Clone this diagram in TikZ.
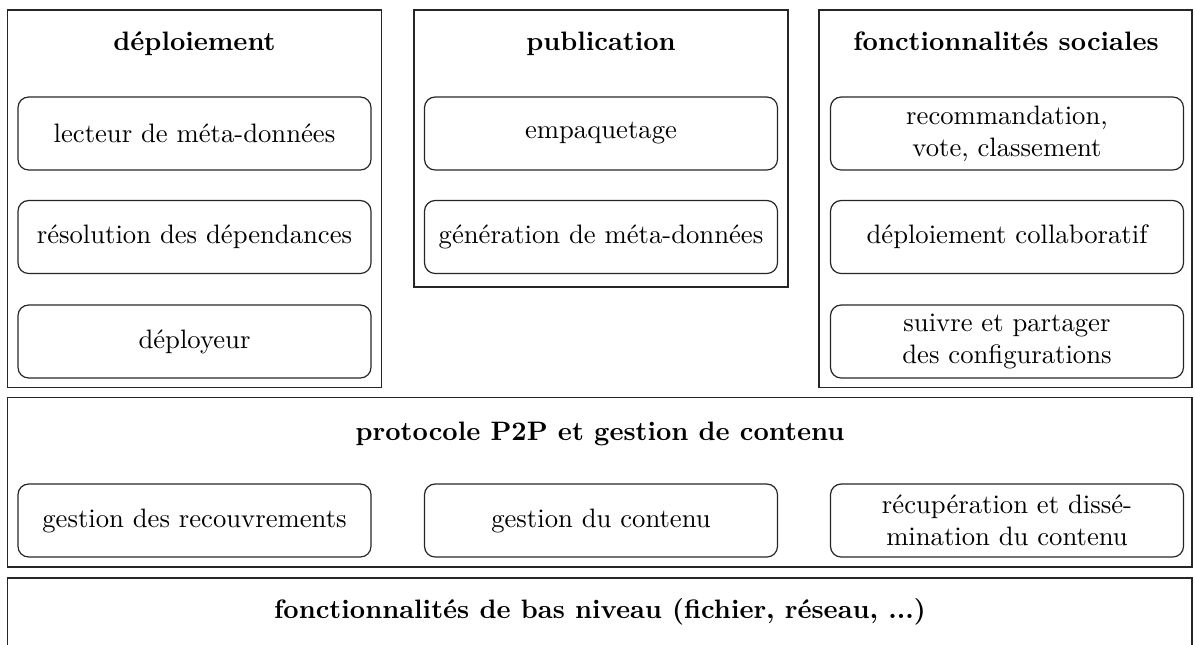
\documentclass[tikz,border=0pt]{standalone}
\usepackage{fontspec}
\begin{document}
\begin{tikzpicture}[x=0.375pt,y=-0.375pt,
  sz/.style 2 args={minimum width=#1*0.375pt, minimum height=#2*0.375pt},
  layer/.style={draw=black!85, line width=0.45pt, inner sep=0pt, rectangle},
  comp/.style={draw=black!85, line width=0.45pt, rounded corners=4pt, inner sep=0pt,
    align=center, sz={353}{73}},
  title/.style={anchor=base, font=\bfseries, inner sep=0pt}]
\useasboundingbox (0,0) rectangle (1195,644);
% layers
\node[layer, sz={374}{377.5}] (dep) at (194.5,198.75) {};
\node[layer, sz={374}{277}] (pub) at (601,148.5) {};
\node[layer, sz={373}{377.5}] (soc) at (1005.5,198.75) {};
\node[layer, sz={1184.5}{169.5}] (p2p) at (599.75,482.25) {};
\node[layer, sz={1184.5}{84}] (base) at (599.75,620) {};
% titles
\node[title] (tdep) at (194.5,50) {déploiement};
\node[title] (tpub) at (601,50) {publication};
\node[title] (tsoc) at (1006,50) {fonctionnalités sociales};
\node[title] (tp2p) at (600,440) {protocole P2P et gestion de contenu};
\node[title] (tbase) at (600,618) {fonctionnalités de bas niveau (fichier, réseau, ...)};
% deploiement
\node[comp] (lect) at (194.5,133.5) {lecteur de méta-données};
\node[comp] (reso) at (194.5,237) {résolution des dépendances};
\node[comp] (depl) at (194.5,341.5) {déployeur};
% publication
\node[comp] (emp) at (601,133.5) {empaquetage};
\node[comp] (gen) at (601,237) {génération de méta-données};
% sociales
\node[comp] (reco) at (1007,133.5) {recommandation,\\vote, classement};
\node[comp] (collab) at (1007,237) {déploiement collaboratif};
\node[comp] (suivre) at (1007,341.5) {suivre et partager\\des configurations};
% p2p
\node[comp] (recouv) at (194.5,520.5) {gestion des recouvrements};
\node[comp] (cont) at (601,520.5) {gestion du contenu};
\node[comp] (recup) at (1007,520.5) {récupération et dissé-\\mination du contenu};
\end{tikzpicture}
\end{document}
